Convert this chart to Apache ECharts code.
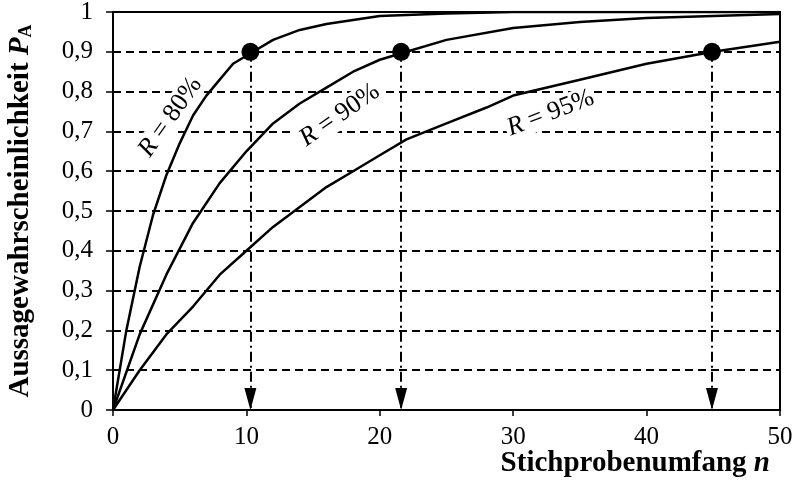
<!DOCTYPE html>
<html lang="de">
<head>
  <meta charset="UTF-8" />
  <title>Aussagewahrscheinlichkeit</title>
  <script src="https://cdn.jsdelivr.net/npm/echarts@6/dist/echarts.min.js"></script>
  <style>
    * { margin: 0; padding: 0; }
    body { background: #fff; }
    #chart { width: 795px; height: 490px; }
  </style>
</head>
<body>
  <div id="chart"></div>
  <script>
    // Werte
    const nR80 = [0, 1, 2, 3, 4, 5, 6, 7, 8, 9, 10, 12, 14, 16, 18, 20, 25, 30, 40, 50];
    const pR80 = [0, 0.2, 0.36, 0.49, 0.59, 0.67, 0.74, 0.79, 0.83, 0.87, 0.89, 0.93, 0.955, 0.97, 0.98, 0.99, 0.996, 1, 1, 1];
    const nR90 = [0, 2, 4, 6, 8, 10, 12, 14, 16, 18, 20, 22, 25, 30, 35, 40, 45, 50];
    const pR90 = [0, 0.19, 0.34, 0.47, 0.57, 0.65, 0.72, 0.77, 0.81, 0.85, 0.88, 0.9, 0.93, 0.96, 0.975, 0.985, 0.99, 0.995];
    const nR95 = [0, 2, 4, 6, 8, 10, 12, 14, 16, 18, 20, 22, 25, 28, 30, 35, 40, 45, 50];
    const pR95 = [0, 0.1, 0.19, 0.26, 0.34, 0.4, 0.46, 0.51, 0.56, 0.6, 0.64, 0.68, 0.72, 0.76, 0.79, 0.83, 0.87, 0.9, 0.925];
    const hitN = [10.3, 21.6, 44.9];
    const hitP = 0.9;
    const curveLabels = ['R = 80%', 'R = 90%', 'R = 95%'];
    const labelPos = [[4.3, 0.736], [17.0, 0.741], [32.8, 0.746]];
    const labelAngle = [55, 35, 21];

    const serif = '"Liberation Serif", "DejaVu Serif", serif';
    const zip = (xs, ys) => xs.map((x, i) => [x, ys[i]]);

    const curve = (name, data) => ({
      name, type: 'line', data, showSymbol: false, smooth: false,
      lineStyle: { color: '#000', width: 2.5 }, z: 3
    });

    const chart = echarts.init(document.getElementById('chart'));
    chart.setOption({
      animation: false,
      grid: {
        left: 113, right: 15, top: 12, bottom: 80, outerBoundsMode: 'none',
        show: true, borderColor: '#000', borderWidth: 2
      },
      xAxis: {
        type: 'value', min: 0, max: 50, interval: 10,
        axisLine: { lineStyle: { color: '#000', width: 2 } },
        axisTick: { show: true, length: 6, lineStyle: { color: '#000', width: 1.5 } },
        axisLabel: { color: '#000', fontFamily: serif, fontSize: 25, margin: 15 },
        splitLine: { show: false }
      },
      yAxis: {
        type: 'value', min: 0, max: 1, interval: 0.1,
        axisLine: { show: true, lineStyle: { color: '#000', width: 2 } },
        axisTick: { show: true, length: 7, lineStyle: { color: '#000', width: 1.5 } },
        axisLabel: {
          color: '#000', fontFamily: serif, fontSize: 25, margin: 20,
          formatter: v => String(+v.toFixed(1)).replace('.', ',')
        },
        splitLine: { show: true, lineStyle: { color: '#000', width: 2, type: [8, 5] } },
        name: '{b|Aussagewahrscheinlichkeit }{i|P}{s|A}',
        nameLocation: 'middle', nameRotate: 90, nameGap: 78,
        nameTextStyle: {
          rich: {
            b: { fontFamily: serif, fontWeight: 'bold', fontSize: 29, color: '#000' },
            i: { fontFamily: serif, fontWeight: 'bold', fontStyle: 'italic', fontSize: 29, color: '#000' },
            s: { fontFamily: serif, fontWeight: 'bold', fontSize: 18, color: '#000', verticalAlign: 'bottom', padding: [11, 0, 0, 0] }
          }
        }
      },
      graphic: [{
        type: 'text', right: 25, top: 449,
        style: {
          text: '{b|Stichprobenumfang }{i|n}',
          rich: {
            b: { fontFamily: serif, fontWeight: 'bold', fontSize: 29, fill: '#000' },
            i: { fontFamily: serif, fontWeight: 'bold', fontStyle: 'italic', fontSize: 29, fill: '#000' }
          }
        }
      }],
      series: [
        curve('R80', zip(nR80, pR80)),
        curve('R90', zip(nR90, pR90)),
        curve('R95', zip(nR95, pR95)),
        {
          name: 'drop', type: 'line', data: [], z: 2,
          markLine: {
            silent: true, symbol: ['none', 'none'], label: { show: false },
            lineStyle: { color: '#000', width: 2, type: [10, 4, 2, 4] },
            data: hitN.map(n => [{ coord: [n, hitP] }, { coord: [n, 0] }])
          }
        },
        {
          name: 'arrows', type: 'scatter', symbol: 'triangle', symbolRotate: 180,
          symbolSize: [12, 22], symbolOffset: [0, -11], z: 4,
          itemStyle: { color: '#000', opacity: 1 },
          data: hitN.map(n => [n, 0])
        },
        {
          name: 'hits', type: 'scatter', symbol: 'circle', symbolSize: 18, z: 6,
          itemStyle: { color: '#000', opacity: 1 },
          data: hitN.map(n => [n, hitP])
        },
        {
          name: 'labels', type: 'scatter', symbolSize: 0, z: 5,
          itemStyle: { opacity: 1 },
          data: labelPos.map((p, i) => ({
            value: p,
            label: {
              show: true, position: 'inside', rotate: labelAngle[i],
              formatter: '{i|R}{t|' + curveLabels[i].slice(1) + '}',
              backgroundColor: '#fff', padding: [0, 2],
              rich: {
                i: { fontFamily: serif, fontStyle: 'italic', fontSize: 26, color: '#000' },
                t: { fontFamily: serif, fontSize: 26, color: '#000' }
              }
            }
          }))
        }
      ]
    });
  </script>
</body>
</html>
